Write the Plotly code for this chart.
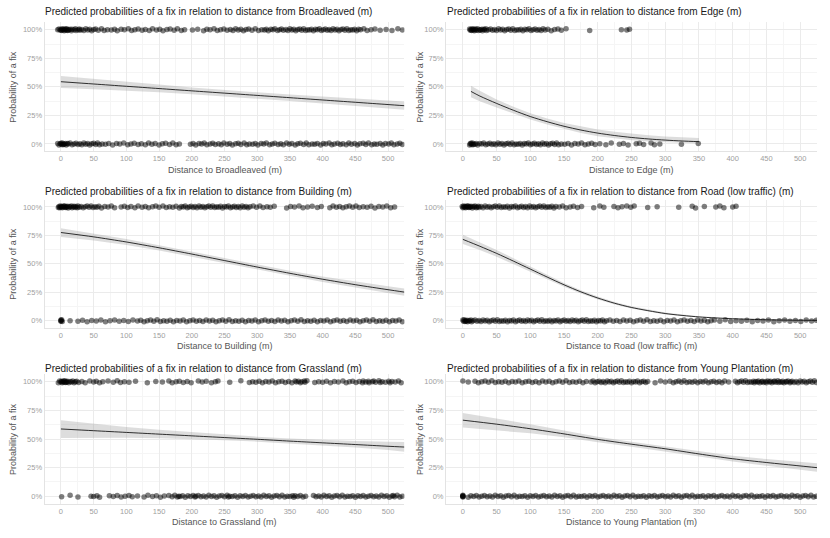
import plotly.graph_objects as go

# ---------------- data ----------------
TITLES = ["Broadleaved", "Edge", "Building", "Road (low traffic)", "Grassland", "Young Plantation"]
X_TICKS = [0, 50, 100, 150, 200, 250, 300, 350, 400, 450, 500]
Y_TICKS = [0, 0.25, 0.5, 0.75, 1.0]
Y_TICK_LABELS = ["0%", "25%", "50%", "75%", "100%"]

# predicted curves
BL_X = [0, 50, 100, 150, 200, 250, 300, 350, 400, 450, 500, 525]
BL_P = [0.545, 0.525, 0.505, 0.485, 0.465, 0.445, 0.425, 0.405, 0.385, 0.365, 0.345, 0.335]
BL_LO = [0.49, 0.48, 0.467, 0.452, 0.436, 0.418, 0.398, 0.376, 0.355, 0.333, 0.312, 0.300]
BL_HI = [0.595, 0.572, 0.545, 0.52, 0.495, 0.472, 0.452, 0.434, 0.416, 0.398, 0.380, 0.372]

ED_X = [12, 25, 50, 75, 100, 125, 150, 175, 200, 225, 250, 275, 300, 325, 350]
ED_P = [0.46, 0.42, 0.355, 0.295, 0.24, 0.195, 0.155, 0.122, 0.095, 0.074, 0.057, 0.044, 0.034, 0.026, 0.02]
ED_LO = [0.41, 0.375, 0.32, 0.265, 0.215, 0.17, 0.13, 0.095, 0.068, 0.047, 0.032, 0.021, 0.014, 0.009, 0.005]
ED_HI = [0.51, 0.465, 0.39, 0.325, 0.268, 0.222, 0.183, 0.152, 0.127, 0.106, 0.09, 0.076, 0.066, 0.058, 0.052]

BU_X = [0, 50, 100, 150, 200, 250, 300, 350, 400, 450, 500, 525]
BU_P = [0.775, 0.737, 0.692, 0.641, 0.586, 0.529, 0.472, 0.417, 0.365, 0.317, 0.273, 0.252]
BU_LO = [0.735, 0.705, 0.665, 0.618, 0.565, 0.509, 0.452, 0.395, 0.341, 0.29, 0.244, 0.221]
BU_HI = [0.812, 0.767, 0.719, 0.664, 0.607, 0.549, 0.492, 0.439, 0.389, 0.344, 0.303, 0.284]

RO_X = [0, 25, 50, 75, 100, 125, 150, 175, 200, 225, 250, 300, 350, 400, 450, 500, 525]
RO_P = [0.715, 0.655, 0.592, 0.524, 0.454, 0.384, 0.316, 0.254, 0.2, 0.154, 0.117, 0.064, 0.034, 0.018, 0.009, 0.005, 0.004]
RO_LO = [0.675, 0.622, 0.563, 0.499, 0.434, 0.366, 0.3, 0.24, 0.188, 0.143, 0.107, 0.056, 0.028, 0.013, 0.006, 0.003, 0.002]
RO_HI = [0.755, 0.69, 0.622, 0.55, 0.475, 0.402, 0.332, 0.268, 0.213, 0.166, 0.128, 0.073, 0.041, 0.024, 0.014, 0.009, 0.008]

GR_X = [0, 50, 100, 150, 200, 250, 300, 350, 400, 450, 500, 525]
GR_P = [0.588, 0.573, 0.558, 0.543, 0.528, 0.513, 0.498, 0.482, 0.467, 0.452, 0.437, 0.43]
GR_LO = [0.51, 0.513, 0.512, 0.508, 0.5, 0.49, 0.477, 0.462, 0.445, 0.427, 0.405, 0.388]
GR_HI = [0.665, 0.634, 0.606, 0.581, 0.559, 0.539, 0.521, 0.505, 0.492, 0.482, 0.476, 0.474]

YP_X = [0, 50, 100, 150, 200, 250, 300, 350, 400, 450, 500, 525]
YP_P = [0.665, 0.63, 0.59, 0.545, 0.497, 0.455, 0.415, 0.37, 0.328, 0.295, 0.265, 0.25]
YP_LO = [0.6, 0.578, 0.55, 0.515, 0.473, 0.433, 0.393, 0.347, 0.303, 0.266, 0.232, 0.214]
YP_HI = [0.727, 0.68, 0.63, 0.575, 0.521, 0.477, 0.437, 0.393, 0.353, 0.325, 0.298, 0.288]

# observed fixes (x positions of points at 100% and at 0%)
BL_TOP = [-5, -3, -1, 0, 1, 2, 3, 4, 5, 6, 7, 8, 9, 10, 11, 12, 14, 16, 17, 20, 22, 23, 26, 28, 29, 32, 35, 38, 41, 44,
          47, 50, 53,
          57, 62, 66, 71, 77, 82, 86, 92, 97, 103, 108, 113, 118, 124, 129, 135, 140, 146, 151, 156, 162, 167, 173, 178, 184,
          189, 201, 209, 218,
          223, 228, 234, 239, 244, 249, 254, 259, 263, 267, 271, 275, 279, 283, 287, 292, 297, 302, 307,
          311, 314, 317, 321, 324, 327, 331, 334, 337, 340, 344, 347, 350, 353, 356, 359, 362, 365, 368, 371, 374, 377,
          380, 383, 386, 389, 392, 395, 398, 401, 404, 407, 410, 413, 416, 419, 422, 425, 428, 431, 434, 437, 440, 443,
          446, 449, 452, 455, 458, 463, 468, 474, 480, 488, 497, 506, 515, 522]
BL_BOT = [-5, -3, -1, 0, 1, 2, 3, 4, 5, 7, 8, 10, 11, 14, 17, 20, 23, 26, 29, 32, 35, 38, 41, 44, 47, 50, 53, 56, 59,
          63, 68, 73, 79, 85, 90, 96, 102, 107, 112, 118, 123, 129, 134, 139, 144, 150, 155, 160, 166, 171, 176, 181,
          198, 202, 206, 211, 215, 219, 223, 228, 232, 236, 241, 245, 249, 254, 258, 262, 267, 271, 275, 280, 284, 288,
          293, 297, 301, 306, 310, 314, 319, 323, 327, 332, 336, 340, 345, 349, 353, 358, 362, 366, 371, 375, 379, 384,
          388, 392, 397, 401, 405, 410, 414, 418, 423, 427, 431, 436, 440, 444, 449, 453, 457, 462, 466, 470, 475, 479,
          483, 488, 492, 496, 501, 505, 509, 514, 518, 522]

ED_TOP = [10, 11, 12, 13, 14, 15, 16, 17, 18, 19, 20, 22, 23, 25, 26, 28, 29, 31, 32, 34, 35, 38, 41, 44, 47, 50, 53,
          56, 59, 62, 65, 68, 71, 74, 77, 80, 83, 86, 89, 92, 95, 98, 101, 104, 107, 110, 113, 116, 119, 122, 126, 131,
          136, 141, 146, 153, 188, 235, 243, 247]
ED_BOT = [10, 11, 12, 13, 14, 15, 16, 18, 20, 22, 25, 28, 31, 34, 37, 40, 43, 46, 49, 52, 55, 58, 61, 64, 67, 70, 73,
          76, 79, 82, 85, 88, 91, 94, 97, 100, 103, 106, 109, 112, 115, 118, 121, 124, 127, 130, 133, 136, 139, 142,
          146, 151, 156, 161, 166, 171, 176, 181, 186, 191, 196, 203, 212, 220, 232, 238, 245, 257, 262, 268,
          279, 284, 292, 324, 349]

BU_TOP = [-4, -3, -2, -1, 0, 1, 2, 3, 4, 5, 6, 7, 8, 9, 10, 11, 13, 14, 16, 17, 19, 20, 22, 23, 25, 26, 28, 31, 34,
          37, 40, 43, 46, 49, 52, 55, 58,
          62, 67, 72, 77, 82,
          92, 97, 102, 107, 113, 118, 124, 129, 134, 140, 145, 150, 156, 161, 166, 171, 176,
          181, 184, 187, 190, 193, 196, 199, 202, 205, 208, 211, 214, 217, 220, 223, 226, 229, 232, 235, 238, 241, 244,
          247, 250, 253, 256, 259, 262, 265, 268, 271, 274, 277, 280, 283, 286, 289,
          294, 299, 304, 309, 315, 320, 326,
          345, 351, 357, 364, 370, 377, 384, 392, 398,
          411, 416, 421, 426, 431, 436, 441, 446, 451, 456, 462, 468, 474, 480, 486, 492, 498, 504, 510]
BU_BOT = [0, 0, 0, 1, 2, 14, 26, 33, 40, 47, 54, 61, 68, 75, 82, 89, 96, 103, 110, 117,
          122, 127, 132, 137, 142, 147, 152, 157, 162, 167, 172, 177, 182, 187, 192, 197, 202, 207, 212, 217, 222, 227,
          232, 237, 242, 247, 252, 257, 262, 267, 272, 277, 282, 287, 292, 297, 302, 307, 312, 317, 322, 327, 332, 337,
          342, 347, 352, 357, 362, 367, 372, 377, 382, 387, 392, 397, 402, 407, 412, 417, 422, 427, 432, 437, 442, 447,
          452, 457, 462, 467, 472, 477, 482, 487, 492, 497, 502, 507, 512, 517, 522]

RO_TOP = [-1, 0, 1, 2, 3, 4, 5, 6, 7, 8, 9, 10, 11, 12, 14, 15, 17, 18, 20, 21, 23, 24, 27, 30, 33, 36, 39, 42, 45, 48,
          51, 54, 57, 60, 63, 66, 69, 72, 75, 78, 81, 84, 87, 90, 93, 96, 99, 102, 105, 108, 111, 114, 117, 120, 123,
          126, 129, 132, 135, 138,
          143, 148, 153, 159, 164, 170, 176, 194, 203, 209, 224, 230, 236, 243, 249, 254, 274, 288, 320, 340, 345,
          358, 375, 381, 387, 400, 405]
RO_BOT = [0, 1, 2, 3, 4, 5, 6, 7, 9, 10, 12, 13, 15, 18, 21, 24, 27, 30, 33, 36, 39, 42, 45, 48, 51, 54, 57, 60, 63,
          66, 69, 72, 75, 78, 81, 84, 87, 90, 93, 96, 99, 102, 105, 108, 111, 114, 117, 120, 123, 126, 129, 132, 135,
          138, 141, 144, 147, 150, 153, 156, 159, 162, 165, 168, 171, 174, 177, 180, 183, 186, 189, 192, 195, 198, 201,
          204, 207, 210, 213,
          218, 223, 228, 233, 238, 243, 248, 253, 258, 263, 268, 273, 278, 283, 288, 293, 298, 303, 308, 313, 318, 323,
          328, 333, 338, 343, 348, 353, 358, 363, 368, 373,
          381, 389, 397, 405, 413, 421, 429, 437, 445, 453, 461, 469, 477, 485, 493, 501, 509, 517, 524]

GR_TOP = [-4, -2, 0, 1, 2, 3, 4, 5, 6, 7, 8, 9, 10, 12, 14, 16, 18, 20, 22, 24, 27, 32, 37, 44, 50, 54, 59, 64, 72, 80,
          86, 91, 97, 104, 114, 132, 145, 155, 165, 170, 176, 181, 187, 193, 199, 210, 216, 222, 230, 236, 240,
          258, 275, 288, 293, 298, 303, 308, 313, 318, 323, 328, 333, 338, 343, 348, 353, 358, 360, 363, 366, 368,
          372, 373, 376, 388, 394, 400, 406, 412, 418, 424, 431, 436, 441, 446, 451, 456, 461, 462, 466, 470, 471,
          476, 478, 481, 486, 488, 491, 496, 501, 503, 506, 511, 516, 520]
GR_BOT = [1, 14, 26, 46, 50, 55, 59, 74, 80, 86, 92, 98, 104, 109, 117, 127, 133, 140, 146, 152, 158, 165,
          170, 174, 178, 180, 182, 186, 190, 194, 198, 202, 205, 206, 210, 214, 218, 222, 226, 230, 234, 238, 242, 246,
          250, 254, 256, 258, 262, 266, 270, 274, 278, 282, 286, 290, 294, 298, 302, 306, 310, 314, 318, 322, 326, 330,
          334, 338, 342, 346, 350, 354, 356, 358, 362, 366, 370, 374,
          386, 390, 394, 398, 402, 406, 410, 414, 418, 422, 426, 430, 434, 438, 442, 446, 450, 454, 458, 462, 466, 470,
          474, 478, 482, 486, 490, 494, 498, 502, 506, 508, 510, 514, 518, 522]

YP_TOP = [0, 8, 18, 23, 28, 33, 38, 43, 48, 53, 58, 63, 68, 73, 78, 83, 88, 93, 98, 103, 108, 113, 118, 123, 128, 133,
          138, 143, 148, 153, 158, 163, 168, 173, 178, 183,
          190, 193, 196, 199, 202, 205, 208, 211, 214, 217, 220, 223, 226, 229, 232, 235, 238, 241, 244, 247, 250, 253,
          256, 259, 262, 265, 268, 271, 274,
          285, 293, 300, 307, 312, 316, 320, 324, 328, 332, 336, 340, 344, 348, 352, 356, 360, 364, 368, 372, 376, 380,
          384, 388, 394,
          404, 407, 410, 413, 416, 419, 422, 425, 428, 431, 432, 434, 437, 438, 440, 443, 444, 446, 449, 450, 452, 455,
          456, 458, 461, 462, 464, 467, 468, 470, 473, 474, 476, 479, 480, 482, 485, 486, 488, 491, 494, 497, 500, 503,
          506, 509, 512, 515, 518, 521, 524]
YP_BOT = [0, 0, 0, 0, 0, 8, 12, 16, 20, 24, 28, 32, 36, 40, 44, 48, 52, 56, 60, 64, 68, 72, 76, 80, 84, 88, 92, 96,
          100, 104, 108, 112, 116, 120, 124, 128, 132, 136, 140, 144, 148, 152, 156, 160, 164, 168, 172, 176, 180, 184,
          188, 192, 196, 200, 204, 208, 212, 216, 220, 224, 228, 232, 236, 240, 244, 248, 252, 256, 260, 264, 268, 272,
          276, 280, 284, 288, 292, 296, 300, 304, 308, 312, 316, 320, 324, 328, 332, 336, 340, 344, 348, 352, 356, 360,
          364, 368, 372, 376, 380, 384, 388, 392, 396, 400, 404, 408, 412, 416, 420, 424, 428, 432, 436, 440, 444, 448,
          452, 456, 460, 464, 468, 472, 476, 480, 484, 488, 492, 496, 500, 504, 508, 512, 516, 520, 524]

# small vertical jitter pattern applied to the observed points (as geom_jitter does)
JITTER = [0.0, 0.006, -0.005, 0.003, -0.007, 0.008, -0.002, 0.0045, -0.0085, 0.0015, 0.007, -0.004, 0.009, -0.006,
          0.0005, -0.003, 0.005, -0.009, 0.0035, -0.001, 0.0075, -0.0075]

PANELS = [
    (BL_X, BL_P, BL_LO, BL_HI, BL_TOP, BL_BOT),
    (ED_X, ED_P, ED_LO, ED_HI, ED_TOP, ED_BOT),
    (BU_X, BU_P, BU_LO, BU_HI, BU_TOP, BU_BOT),
    (RO_X, RO_P, RO_LO, RO_HI, RO_TOP, RO_BOT),
    (GR_X, GR_P, GR_LO, GR_HI, GR_TOP, GR_BOT),
    (YP_X, YP_P, YP_LO, YP_HI, YP_TOP, YP_BOT),
]

# ---------------- layout geometry (pixels) ----------------
W, H = 830, 538
COLS = [(44.6, 404.4), (446.0, 817.0)]
ROWS = [(22.3, 151.4), (199.5, 328.2), (374.4, 503.7)]
TITLE_Y = [12, 191, 368]
XTITLE_Y = [170, 346, 522]

FONT = "Liberation Sans, Arial, sans-serif"


def jittered(base, n, offset):
    return [base + JITTER[(k + offset) % len(JITTER)] for k in range(n)]


fig = go.Figure()
layout = dict(
    width=W, height=H, margin=dict(l=0, r=0, t=0, b=0),
    paper_bgcolor="white", plot_bgcolor="white", showlegend=False,
    font=dict(family=FONT),
)
annotations = []

for i, (xs, p, lo, hi, top, bot) in enumerate(PANELS):
    r, c = divmod(i, 2)
    n = "" if i == 0 else str(i + 1)
    xa, ya = "x" + n, "y" + n
    x0, x1 = COLS[c]
    y0, y1 = ROWS[r]

    layout["xaxis" + n] = dict(
        domain=[x0 / W, x1 / W], range=[-25, 525], anchor=ya,
        tickvals=X_TICKS, showgrid=True, gridcolor="#EBEBEB", gridwidth=1,
        minor=dict(dtick=25, tick0=0, showgrid=True, gridcolor="#F5F5F5", gridwidth=1),
        zeroline=False, showline=True, linecolor="#E3E3E3", linewidth=1,
        ticks="", tickfont=dict(size=7.5, color="#A0A0A0", family=FONT),
    )
    layout["yaxis" + n] = dict(
        domain=[1 - y1 / H, 1 - y0 / H], range=[-0.065, 1.065], anchor=xa,
        tickvals=Y_TICKS, ticktext=Y_TICK_LABELS, showgrid=True, gridcolor="#EBEBEB", gridwidth=1,
        minor=dict(tickvals=[0.125, 0.375, 0.625, 0.875], showgrid=True, gridcolor="#F5F5F5", gridwidth=1),
        zeroline=False, showline=True, linecolor="#E3E3E3", linewidth=1,
        ticks="", tickfont=dict(size=7.5, color="#A0A0A0", family=FONT),
    )

    # observed points
    fig.add_trace(go.Scatter(
        x=top + bot, y=jittered(1.0, len(top), i) + jittered(0.0, len(bot), i + 7), mode="markers",
        marker=dict(color="black", size=5.5, opacity=0.5, line=dict(width=0)),
        xaxis=xa, yaxis=ya, hoverinfo="skip"))
    # confidence ribbon
    fig.add_trace(go.Scatter(
        x=list(xs) + list(xs)[::-1], y=list(hi) + list(lo)[::-1], mode="lines",
        fill="toself", fillcolor="rgba(150,150,150,0.32)", line=dict(width=0),
        xaxis=xa, yaxis=ya, hoverinfo="skip"))
    # fitted line
    fig.add_trace(go.Scatter(
        x=xs, y=p, mode="lines", line=dict(color="black", width=0.8, shape="spline", smoothing=0.8),
        xaxis=xa, yaxis=ya, hoverinfo="skip"))

    annotations.append(dict(
        text=f"Predicted probabilities of a fix in relation to distance from {TITLES[i]} (m)",
        x=(x0 - 1.5) / W, y=1 - TITLE_Y[r] / H, xref="paper", yref="paper",
        xanchor="left", yanchor="middle", showarrow=False,
        font=dict(size=10, color="#1a1a1a", family=FONT)))
    annotations.append(dict(
        text=f"Distance to {TITLES[i]} (m)",
        x=(x0 + x1) / 2 / W, y=1 - XTITLE_Y[r] / H, xref="paper", yref="paper",
        xanchor="center", yanchor="middle", showarrow=False,
        font=dict(size=9, color="#555555", family=FONT)))
    annotations.append(dict(
        text="Probability of a fix", textangle=-90,
        x=(13 if c == 0 else 420) / W, y=1 - (y0 + y1) / 2 / H, xref="paper", yref="paper",
        xanchor="center", yanchor="middle", showarrow=False,
        font=dict(size=9, color="#555555", family=FONT)))

layout["annotations"] = annotations
fig.update_layout(**layout)
fig.write_html("out.html")
